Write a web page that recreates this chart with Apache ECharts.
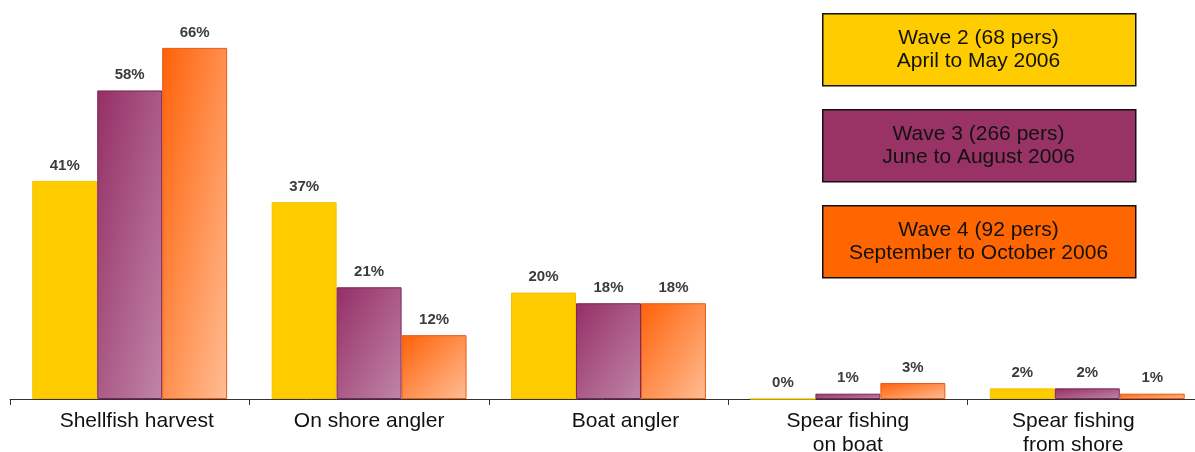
<!DOCTYPE html>
<html>
<head>
<meta charset="utf-8">
<script src="https://cdn.jsdelivr.net/npm/echarts@6/dist/echarts.min.js"></script>
<style>
  html, body { margin: 0; padding: 0; background: #fff; }
  #chart { width: 1195px; height: 452px; }
</style>
</head>
<body>
<div id="chart"></div>
<script>
// Fishing activity shares by survey wave (percent of respondents)
const categories = ['Shellfish harvest', 'On shore angler', 'Boat angler', 'Spear fishing\non boat', 'Spear fishing\nfrom shore'];
const wave2 = [41, 37, 20, 0, 2];
const wave3 = [58, 21, 18, 1, 2];
const wave4 = [66, 12, 18, 3, 1];

const waveTitles = ['Wave 2 (68 pers)', 'Wave 3 (266 pers)', 'Wave 4 (92 pers)'];
const wavePeriods = ['April to May 2006', 'June to August 2006', 'September to October 2006'];

const FONT = 'Arial, "Liberation Sans", sans-serif';
const GAP = 0.186;

// horizontal nudges of the category captions (left, right padding)
const captionPad = [[0, 0, 0, 14], [0, 0, 0, 0], [0, 0, 0, 34], [0, 0, 0, 0], [0, 28, 0, 0]];

// fill styles per wave: solid yellow, diagonal purple and orange gradients
const fills = [
  { solid: '#FFCC00', border: '#F2C200', box: '#FFCC00' },
  { from: '#952F66', to: '#C085A8', border: '#7E2456', box: '#993366' },
  { from: '#FF6108', to: '#FFBD94', border: '#E85A12', box: '#FF6600' }
];

const chart = echarts.init(document.getElementById('chart'), null, { renderer: 'canvas' });

function makeSeries(name, values, idx, items) {
  return {
    name: name,
    type: 'bar',
    data: items || values,
    barGap: '0%',
    barCategoryGap: (GAP * 100) + '%',
    itemStyle: {
      color: fills[idx].solid || fills[idx].from,
      borderColor: fills[idx].border,
      borderWidth: 1
    },
    label: {
      show: true,
      position: 'top',
      distance: 8,
      formatter: '{c}%',
      fontFamily: FONT,
      fontWeight: 'bold',
      fontSize: 15,
      color: '#3c3c3c'
    }
  };
}

// legend boxes drawn as framed panels on the right
const boxTop = [13, 109, 205];
const graphics = [];
waveTitles.forEach(function (t, i) {
  graphics.push({
    type: 'rect',
    left: 822, top: boxTop[i],
    shape: { width: 313, height: 72 },
    style: { fill: fills[i].box, stroke: '#111', lineWidth: 1.5 },
    z: 10
  });
  graphics.push({
    type: 'text',
    x: 822 + 313 / 2, y: boxTop[i] + 37,
    style: {
      text: t + '\n' + wavePeriods[i],
      fontFamily: FONT, fontSize: 21, lineHeight: 23,
      fill: '#111', align: 'center', verticalAlign: 'middle'
    },
    z: 11
  });
});

const baseOption = {
  animation: false,
  grid: { left: 10, width: 1197, top: 0, bottom: 53, containLabel: false, outerBoundsMode: 'none' },
  xAxis: {
    type: 'category',
    data: categories.map(function (c, i) {
      return { value: c, textStyle: { padding: captionPad[i] } };
    }),
    axisLine: { show: true, lineStyle: { color: '#333', width: 1 } },
    axisTick: { show: true, length: 6, lineStyle: { color: '#333' } },
    axisLabel: {
      fontFamily: FONT, fontSize: 21, color: '#111',
      lineHeight: 24, margin: 10, interval: 0
    }
  },
  yAxis: { type: 'value', min: 0, max: 75, show: false, splitLine: { show: false } },
  graphic: graphics,
  series: [
    makeSeries(waveTitles[0], wave2, 0),
    makeSeries(waveTitles[1], wave3, 1),
    makeSeries(waveTitles[2], wave4, 2)
  ]
};
chart.setOption(baseOption);

// Per-bar gradient: colour runs corner to corner in the bar's own
// normalised box (top-left dark, bottom-right light).
const y0 = chart.convertToPixel({ yAxisIndex: 0 }, 0);
const band = chart.convertToPixel({ xAxisIndex: 0 }, 1) - chart.convertToPixel({ xAxisIndex: 0 }, 0);
const barW = band * (1 - GAP) / 3;

function gradientItems(values, idx) {
  const f = fills[idx];
  return values.map(function (v) {
    const h = Math.max(1, y0 - chart.convertToPixel({ yAxisIndex: 0 }, v));
    const w = barW;
    const d = h * h + w * w;
    return {
      value: v,
      itemStyle: {
        color: new echarts.graphic.LinearGradient(0, 0, 2 * h * h / d, 2 * w * w / d, [
          { offset: 0, color: f.from },
          { offset: 1, color: f.to }
        ])
      }
    };
  });
}

chart.setOption({
  series: [
    makeSeries(waveTitles[0], wave2, 0),
    makeSeries(waveTitles[1], wave3, 1, gradientItems(wave3, 1)),
    makeSeries(waveTitles[2], wave4, 2, gradientItems(wave4, 2))
  ]
});
</script>
</body>
</html>
